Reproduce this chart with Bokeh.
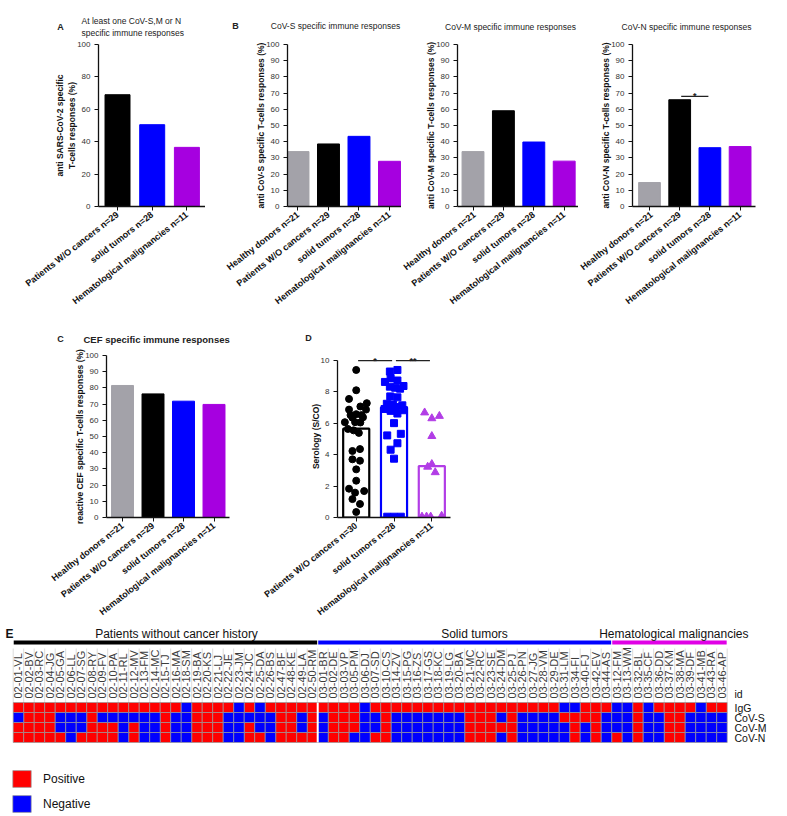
import math
from bokeh.plotting import figure
from bokeh.layouts import row, column
from bokeh.models import Range1d, FixedTicker, ColumnDataSource, Legend, LegendItem
from bokeh.core.properties import value
from bokeh.embed import file_html
from bokeh.resources import INLINE

FONT = "Liberation Sans"

# ---------------- data ----------------
groups3 = ["Patients W/O cancers n=29", "solid tumors n=28", "Hematological malignancies n=11"]
groups4 = ["Healthy donors n=21", "Patients W/O cancers n=29", "solid tumors n=28",
           "Hematological malignancies n=11"]
groups_sero = ["Patients W/O cancers n=30", "solid tumors n=28", "Hematological malignancies n=11"]

any_response = [69.0, 50.5, 36.5]
cov_s_response = [33.9, 38.6, 43.3, 27.9]
cov_m_response = [33.9, 59.1, 39.8, 28.0]
cov_n_response = [14.8, 65.9, 36.3, 37.0]
cef_response = [81.5, 76.3, 71.8, 69.8]

sero_means = [5.65, 7.0, 3.27]
sero_wo_cancer = [9.38, 8.09, 7.54, 7.27, 7.06, 6.86, 6.86, 6.51, 6.57, 6.51,
                  6.37, 6.35, 6.06, 6.06, 6.04, 5.63, 5.54, 5.38, 4.23, 4.35,
                  3.70, 3.61, 3.06, 2.34, 1.83, 1.68, 1.58, 1.17, 0.86, 0.35]
sero_wo_jitter = [0, 0, -0.19, 0.28, 0.11, -0.19, 0.26, -0.15, 0, 0.14,
                  0.18, -0.1, -0.3, -0.03, 0.11, -0.22, -0.07, 0.07, -0.1, 0.1,
                  -0.1, 0.1, 0, 0, -0.19, 0.21, -0.03, -0.1, 0.1, 0]
sero_solid = [9.38, 9.28, 8.87, 8.71, 8.62, 8.32, 8.25, 8.36, 8.19, 7.70,
              7.64, 7.23, 7.19, 7.13, 7.02, 6.78, 6.90, 6.82, 6.61, 6.00,
              5.22, 5.32, 4.72, 4.31, 3.74, 0.05, 0.05, 0.05]
sero_solid_jitter = [0.09, -0.11, -0.09, 0.09, -0.24, -0.11, 0.03, 0.25, 0.16, -0.1,
                     0.09, -0.19, -0.03, 0.22, 0.05, -0.09, -0.25, 0.26, 0.09, 0,
                     -0.18, 0.18, 0.09, -0.09, 0, -0.18, 0, 0.18]
sero_hema = [6.67, 6.45, 6.30, 5.17, 3.39, 3.22, 2.87, 0.05, 0.05, 0.05, 0.10]
sero_hema_jitter = [-0.19, 0.2, 0, 0, 0, -0.11, 0.09, -0.26, -0.14, -0.03, 0.26]

patient_ids = [
    "02-01-VL", "02-02-BV", "02-03-RC", "02-04-JG", "02-05-GA", "02-06-LL", "02-07-SG", "02-08-RY",
    "02-09-FV", "02-10-PA", "02-11-RL", "02-12-MV", "02-13-FM", "02-14-MC", "02-15-TJ", "02-16-MA",
    "02-18-SM", "02-19-BA", "02-20-KS", "02-21-LJ", "02-22-JE", "02-23-JM", "02-24-JC", "02-25-DA",
    "02-26-BS", "02-47-BF", "02-48-KE", "02-49-LA", "02-50-RM",
    "03-01-BR", "03-02-DE", "03-03-VP", "03-05-PM", "03-06-DJ", "03-07-SD", "03-10-CS", "03-14-ZV",
    "03-15-PG", "03-16-ZS", "03-17-GS", "03-18-KC", "03-19-LG", "03-20-BA", "03-21-MC", "03-22-RC",
    "03-23-SE", "03-24-DM", "03-25-PJ", "03-26-PN", "03-27-JG", "03-28-VM", "03-29-DE", "03-31-LM",
    "03-34-FI", "03-40-FJ", "03-42-EV", "03-44-AS",
    "03-12-FM", "03-13-WM", "03-32-BL", "03-35-CF", "03-36-DD", "03-37-KM", "03-38-MA", "03-39-DF",
    "03-41-MB", "03-43-RA", "03-46-AP"]
group_names = ["Patients without cancer history", "Solid tumors", "Hematological  malignancies"]
group_sizes = [29, 28, 11]
assays = ["IgG", "CoV-S", "CoV-M", "CoV-N"]
# P = positive, N = negative, one letter per patient
igg_status = ("PPPPPPPPPPPPPPPPN" "PPPPNPNPPPPP" "PPPPNPP" "PPPPPPPPPPPPPPPPNNPPP" "NNPNPPPPNPP")
cov_s_status = ("NPPPNNNPNNNNNNPNN" "PPPNNNNNPPNP" "NPPPNNP" "NNNNNNNPPPNPNNNNPPPPN" "NNPNNPPNNNN")
cov_m_status = ("PPPPNNNPPPNPNNPNN" "PPPNNPNNPPNP" "NPPPNNP" "NNNNNNNPPPPPNNNNNPNPN" "NNPNNPPNNNN")
cov_n_status = ("PPPPPNPPPPNPNNPNN" "PPPNNPPNPPPP" "NPPNNPP" "NNNNNNNPPPNPNNNNNPNPN" "PNPNNPPNNNN")

panel_titles = ["At least one CoV-S,M or N", "specific immune responses",
                "CoV-S specific immune responses", "CoV-M specific immune responses",
                "CoV-N specific immune responses", "CEF specific immune responses"]

# ---------------- styles ----------------
GRAY, BLACK, BLUE, PURPLE = "#A3A2A9", "#000000", "#0000FF", "#A600E0"
colors4 = [GRAY, BLACK, BLUE, PURPLE]
colors3 = [BLACK, BLUE, PURPLE]
D_PURPLE = "#B23DE6"


def make_panel(width, height, border, x_range, y_range, cats, yticks, ylabel, ybounds=None):
    bl, br, bt, bb = border
    p = figure(width=width, height=height, x_range=Range1d(*x_range), y_range=Range1d(*y_range),
               output_backend="svg", toolbar_location=None,
               min_border_left=bl, min_border_right=br, min_border_top=bt, min_border_bottom=bb)
    p.outline_line_color = None
    p.xgrid.visible = False
    p.ygrid.visible = False
    xa = p.xaxis[0]
    xa.ticker = FixedTicker(ticks=list(range(len(cats))))
    xa.major_label_overrides = {i: c for i, c in enumerate(cats)}
    xa.major_label_orientation = math.radians(38)
    xa.major_label_text_font = FONT
    xa.major_label_text_font_size = "9px"
    xa.major_label_text_font_style = "bold"
    xa.major_label_text_color = "#111111"
    xa.major_label_standoff = 3
    ya = p.yaxis[0]
    ya.ticker = FixedTicker(ticks=yticks)
    ya.axis_label = ylabel
    ya.axis_label_text_font = FONT
    ya.axis_label_text_font_size = "8.5px"
    ya.axis_label_text_font_style = "bold"
    ya.axis_label_text_color = "#111111"
    ya.axis_label_standoff = -3
    ya.major_label_text_font = FONT
    ya.major_label_text_font_size = "8px"
    ya.major_label_text_color = "#333333"
    ya.major_label_standoff = 4
    if ybounds is not None:
        ya.bounds = ybounds
    for ax in (xa, ya):
        ax.axis_line_width = 1.3
        ax.axis_line_color = "#111111"
        ax.major_tick_out = 4
        ax.major_tick_in = 0
        ax.major_tick_line_color = "#111111"
        ax.minor_tick_line_color = None
    return p


def make_strip(width, height, page_x0, page_y0):
    # a plain text band whose data coordinates are page pixels
    s = figure(width=width, height=height, x_range=Range1d(page_x0, page_x0 + width),
               y_range=Range1d(page_y0 + height, page_y0), x_axis_type=None, y_axis_type=None,
               output_backend="svg", toolbar_location=None, min_border=0)
    s.outline_line_color = None
    s.grid.visible = False
    return s


def strip_text(s, xs, ys, texts, size="8.5px", style="normal", align="center", color="#222222"):
    s.text(x=xs, y=ys, text=texts, text_align=align, text_baseline="middle",
           text_font=value(FONT), text_font_size=value(size), text_font_style=style,
           text_color=color)


def add_bars(p, vals, cols, width=0.72):
    src = ColumnDataSource(dict(x=list(range(len(vals))), top=vals, color=cols))
    p.vbar(x="x", top="top", bottom=0, width=width, fill_color="color", line_color="color",
           line_width=1, source=src)


def add_sig(p, pairs, stars, level, size="9px"):
    x0 = [a + 0.05 for a, b in pairs]
    x1 = [b - 0.05 for a, b in pairs]
    p.segment(x0=x0, y0=[level] * len(pairs), x1=x1, y1=[level] * len(pairs),
              line_color="#222222", line_width=1.2)
    p.text(x=[(a + b) / 2 for a, b in pairs], y=[level] * len(pairs), text=stars,
           text_align="center", text_baseline="middle", text_font=value(FONT),
           text_font_size=value(size), text_font_style="bold", text_color="#222222")


PCT10 = list(range(0, 101, 10))
PCT20 = list(range(0, 101, 20))
YR = (0, 100)

# ---------------- row 1 ----------------
H1, BB1 = 279, 112
s1 = make_strip(765, 39, 0, 0)
strip_text(s1, [60, 235], [26, 25], ["A", "B"], size="9px", style="bold")
strip_text(s1, [81, 81], [20, 32], panel_titles[0:2], align="left")
strip_text(s1, [335, 510, 686], [25, 26, 26], panel_titles[2:5])

pA = make_panel(205, H1, (98, 0, 5, BB1), (-0.548, 2.536), YR, groups3, PCT20,
                "anti SARS-CoV-2 specific\nT-cells responses (%)")
add_bars(pA, any_response, colors3)

pB1 = make_panel(196, H1, (82, 0, 5, BB1), (-0.344, 3.394), YR, groups4, PCT10,
                 "anti CoV-S specific T-cells responses (%)")
add_bars(pB1, cov_s_response, colors4)

pB2 = make_panel(177, H1, (56, 0, 5, BB1), (-0.51, 3.47), YR, groups4, PCT10,
                 "anti CoV-M specific T-cells responses (%)")
add_bars(pB2, cov_m_response, colors4)

pB3 = make_panel(187, H1, (54, 10, 5, BB1), (-0.563, 3.51), YR, groups4, PCT10,
                 "anti CoV-N specific T-cells responses (%)")
add_bars(pB3, cov_n_response, colors4)
add_sig(pB3, [(1, 2)], ["*"], 68)

# ---------------- row 2 ----------------
H2, BB2 = 281, 109
s2 = make_strip(460, 27, 0, 318)
strip_text(s2, [60, 308], [338, 337], ["C", "D"], size="9px", style="bold")
strip_text(s2, [83], [339], panel_titles[5:6], size="9.5px", style="bold", align="left")

pC = make_panel(250, H2, (106, 21, 10, BB2), (-0.525, 3.508), YR, groups4, PCT10,
                "reactive CEF specific T-cells responses (%)")
add_bars(pC, cef_response, colors4)

pD = make_panel(210, H2, (87, 10, 5, BB2), (-0.495, 2.494), (0, 10.3), groups_sero,
                [0, 2, 4, 6, 8, 10], "Serology (S/CO)", ybounds=(0, 10))
srcD = ColumnDataSource(dict(x=[0, 1, 2], top=sero_means, color=[BLACK, BLUE, D_PURPLE]))
pD.vbar(x="x", top="top", bottom=0, width=0.69, fill_color=None, line_color="color",
        line_width=2.2, source=srcD)
pD.scatter(x=[0 + j for j in sero_wo_jitter], y=sero_wo_cancer, marker="circle", size=7,
           fill_color=BLACK, line_color=BLACK)
pD.scatter(x=[1 + j for j in sero_solid_jitter], y=sero_solid, marker="square", size=7,
           fill_color=BLUE, line_color=BLUE)
pD.scatter(x=[2 + j for j in sero_hema_jitter], y=sero_hema, marker="triangle", size=8,
           fill_color=D_PURPLE, line_color=D_PURPLE)
add_sig(pD, [(0, 1), (1, 2)], ["*", "**"], 9.98)

# ---------------- row 3: heatmap ----------------
COLW, COL0, ROWH, ROW0 = 10.5, 12.7, 10.0, 737.0
E_W, E_H, E_TOP = 785, 188, 626


def ex(px):
    return (px - COL0) / COLW - 0.5


def ey(py):
    return (ROW0 - py) / ROWH


pE = figure(width=E_W, height=E_H, x_range=Range1d(ex(0), ex(0) + E_W / COLW),
            y_range=Range1d(ey(E_TOP) - E_H / ROWH, ey(E_TOP)), x_axis_type=None,
            y_axis_type=None, output_backend="svg", toolbar_location=None, min_border=0)
pE.outline_line_color = None
pE.grid.visible = False

n_cols = len(patient_ids)
starts = [sum(group_sizes[:i]) for i in range(len(group_sizes))]
ends = [s + n - 1 for s, n in zip(starts, group_sizes)]
group_colors = ["#000000", "#0000FF", "#E000E6"]

pE.segment(x0=[s - 0.45 for s in starts], y0=[ey(642)] * 3, x1=[e + 0.45 for e in ends],
           y1=[ey(642)] * 3, line_color=group_colors, line_width=4)
pE.text(x=[ex(176), ex(474), ex(675)], y=[ey(633)] * 3, text=group_names,
        text_align="center", text_baseline="middle", text_font=value(FONT),
        text_font_size=value("12px"), text_color="#111111")
pE.text(x=[ex(5)], y=[ey(633)], text=["E"], text_align="left", text_baseline="middle",
        text_font=value(FONT), text_font_size=value("12px"), text_font_style="bold",
        text_color="#111111")

# id column separators
pE.segment(x0=[k - 0.5 for k in range(n_cols + 1)], y0=[3.5] * (n_cols + 1),
           x1=[k - 0.5 for k in range(n_cols + 1)], y1=[ey(648)] * (n_cols + 1),
           line_color="#DCDCDC", line_width=1)
pE.text(x=list(range(n_cols)), y=[ey(698)] * n_cols, text=patient_ids, angle=math.pi / 2,
        text_align="left", text_baseline="middle", text_font=value(FONT),
        text_font_size=value("11px"), text_color="#3C3C3C")

pos = dict(x=[], y=[])
neg = dict(x=[], y=[])
for r, s in enumerate([igg_status, cov_s_status, cov_m_status, cov_n_status]):
    yv = len(assays) - 1 - r
    for k, ch in enumerate(s):
        d = pos if ch == "P" else neg
        d["x"].append(k)
        d["y"].append(yv)
r_pos = pE.rect(x="x", y="y", width=1, height=1, source=ColumnDataSource(pos),
                fill_color="#FF0000", line_color="#9A9A9A", line_width=0.7)
r_neg = pE.rect(x="x", y="y", width=1, height=1, source=ColumnDataSource(neg),
                fill_color="#0000FF", line_color="#9A9A9A", line_width=0.7)
pE.segment(x0=[ends[0] + 0.5], y0=[-0.5], x1=[ends[0] + 0.5], y1=[3.5],
           line_color="white", line_width=2)

pE.text(x=[ex(734)] * 5, y=[ey(693)] + [len(assays) - 1 - i for i in range(len(assays))],
        text=["id"] + assays, text_align="left", text_baseline="middle",
        text_font=value(FONT), text_font_size=value("10.5px"), text_color="#111111")

legend = Legend(items=[LegendItem(label="Positive", renderers=[r_pos]),
                       LegendItem(label="Negative", renderers=[r_neg])],
                location=(10, 0), glyph_width=23, glyph_height=21, label_height=21,
                spacing=4, padding=0, margin=0, label_standoff=10,
                label_text_font=FONT, label_text_font_size="12px", label_text_color="#111111",
                border_line_color=None, background_fill_alpha=0)
pE.add_layout(legend)

layout = column(s1, row(pA, pB1, pB2, pB3, spacing=0),
                s2, row(pC, pD, spacing=0), pE, spacing=0)
open("out.html", "w").write(file_html(layout, INLINE))
